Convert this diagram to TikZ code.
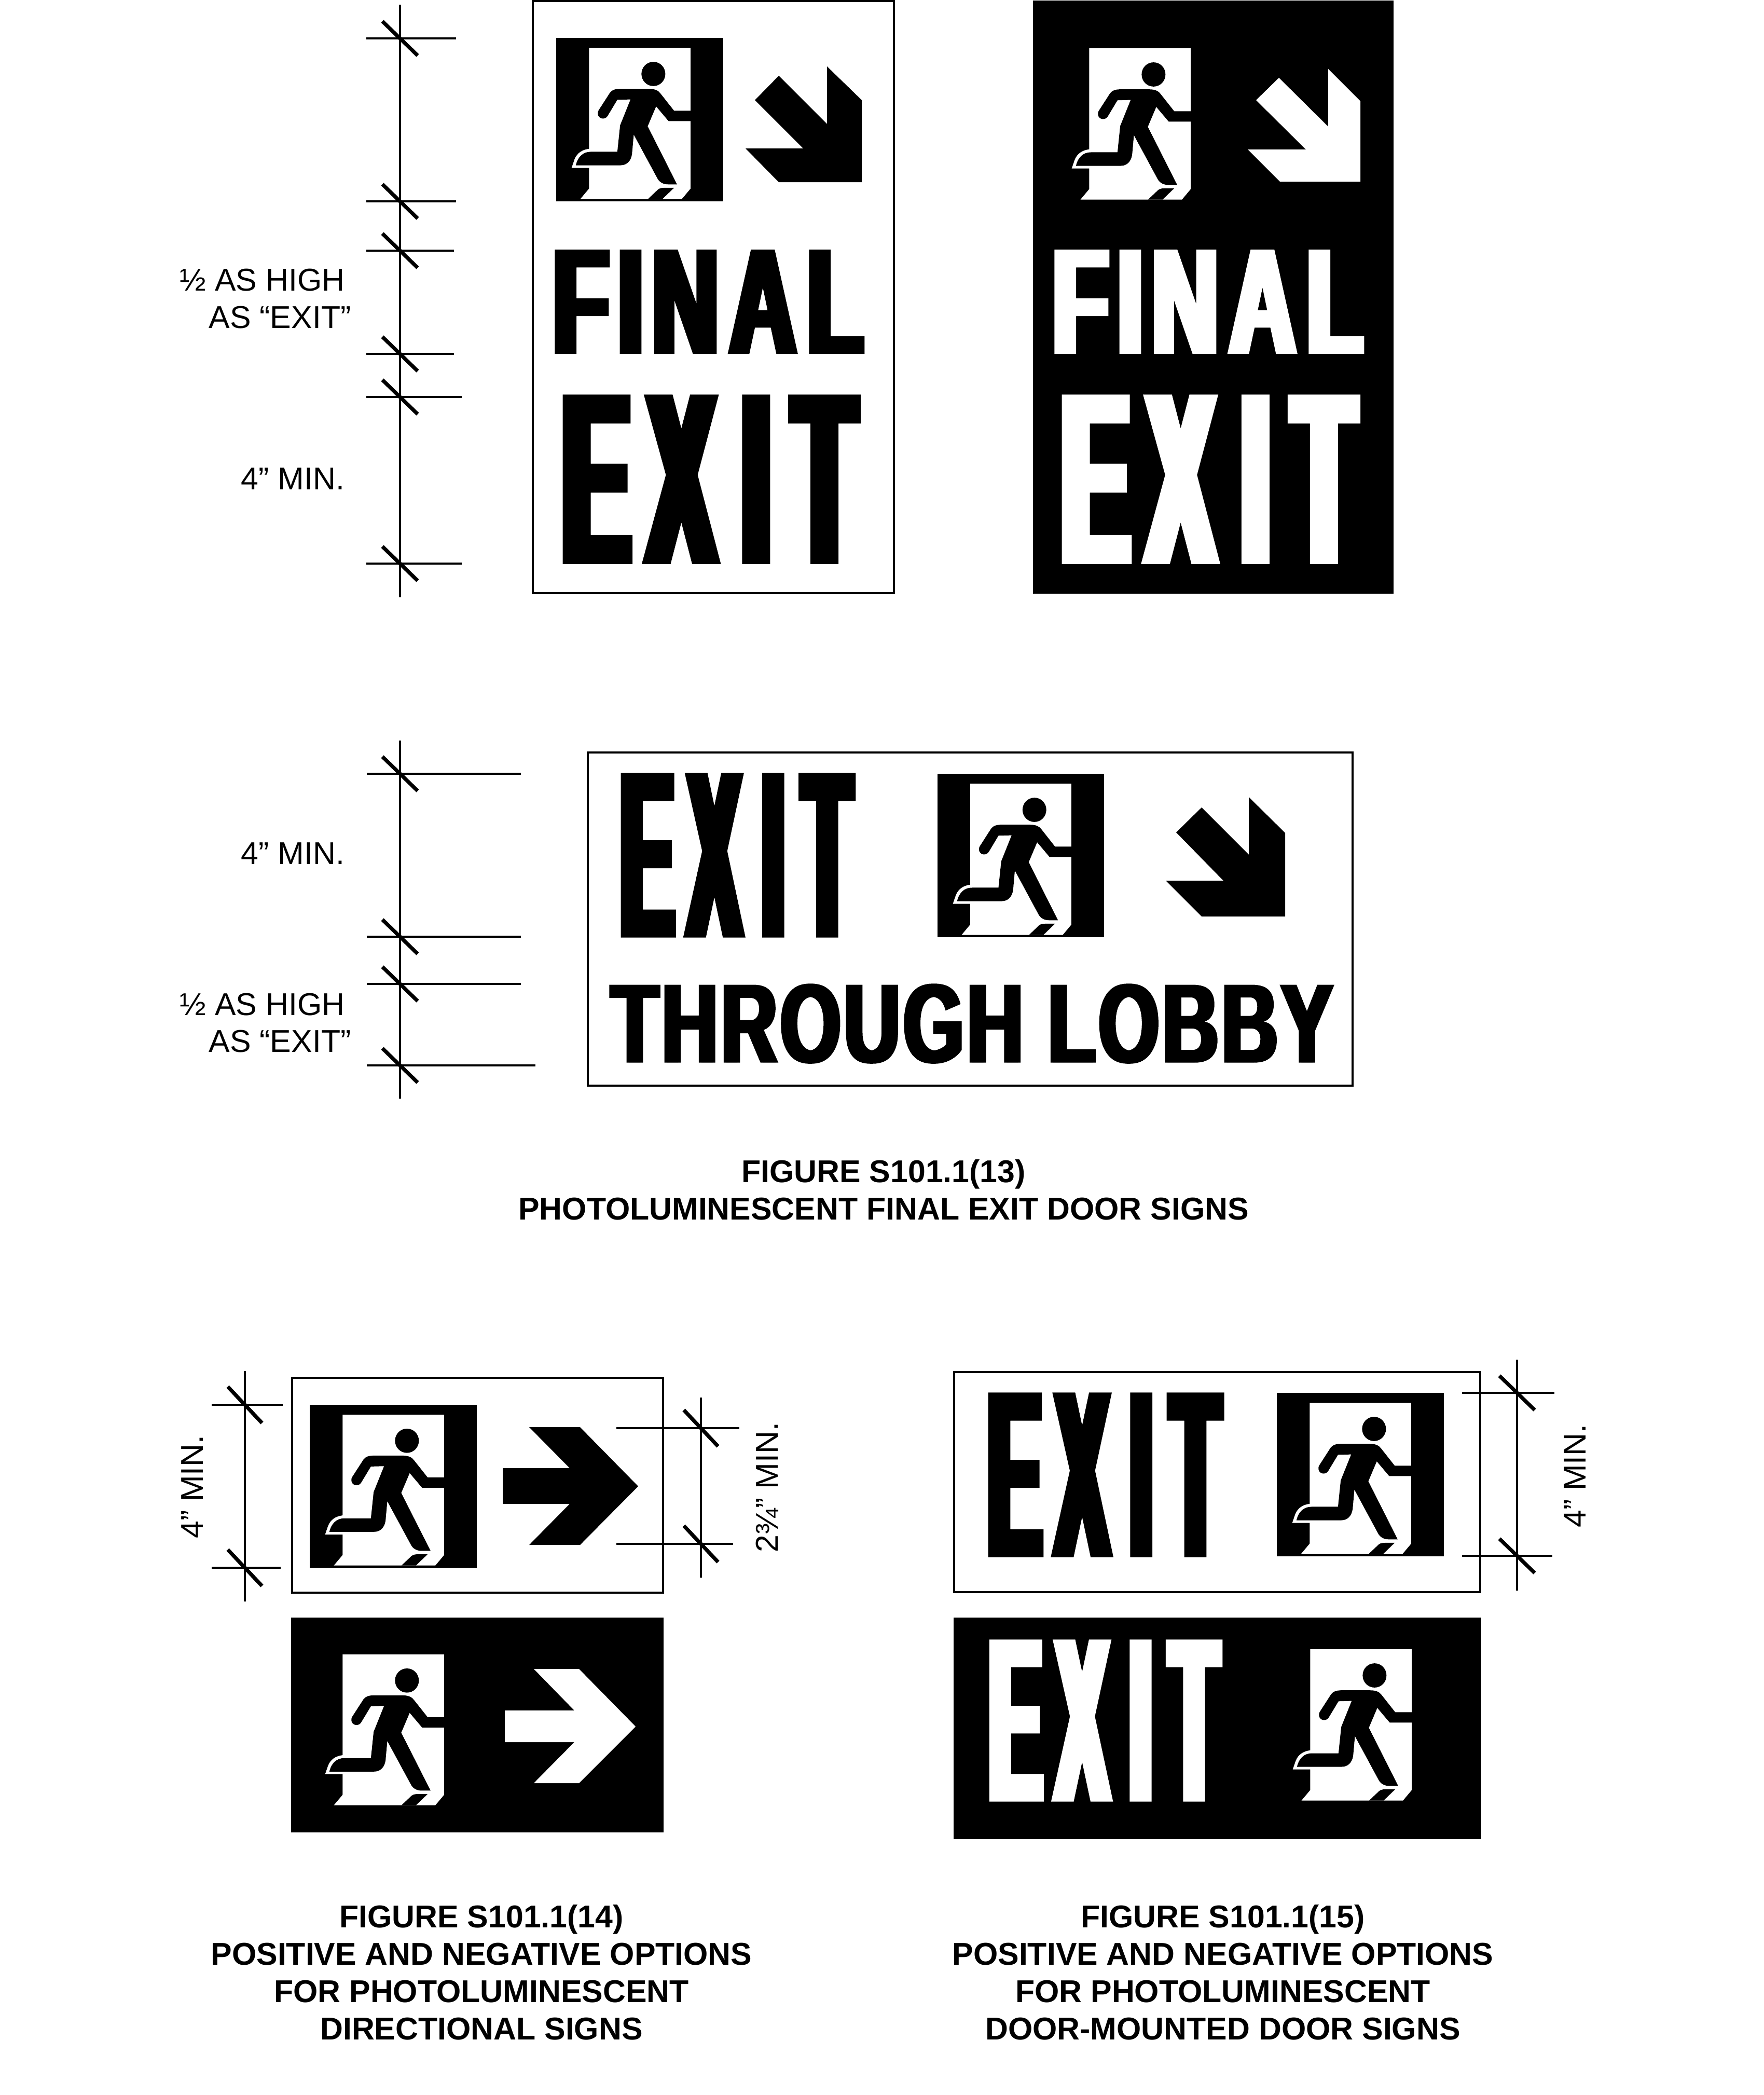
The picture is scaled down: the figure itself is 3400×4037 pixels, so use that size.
\documentclass[tikz,border=0pt]{standalone}
\usepackage{fontspec}
\usepackage{graphicx}
\setmainfont{Liberation Sans}
% narrow letterforms: glyphs are stretched narrow in the font matrix, then widened by the CTM so the outline stroke fattens stems only
\newfontfamily\signE[FakeStretch=0.055,FakeBold=0.74]{Liberation Sans Bold}
\newfontfamily\signF[FakeStretch=0.082,FakeBold=0.75]{Liberation Sans Bold}
\newfontfamily\signT[FakeStretch=0.097,FakeBold=0.65]{Liberation Sans Bold}
\newcommand{\wordExit}{{\fontsize{100}{100}\signE E\kern.010em X\kern.015em I\kern.013em T}}
\newcommand{\wordFinal}{{\fontsize{100}{100}\signF F\kern.008em I\kern.008em N\kern.01em A\kern.01em L}}
\newcommand{\wordLobby}{{\fontsize{100}{100}\signT T\kern.004em H\kern.004em R\kern.004em O\kern.004em U\kern.004em G\kern.004em H\kern.004em{ }L\kern.004em O\kern.004em B\kern.004em B\kern.004em Y}}
\tikzset{
  x=0.25pt,y=-0.25pt,
  dimline/.style={line width=1pt,draw=black},
  dimtick/.style={line width=1.8pt,draw=black},
  signframe/.style={line width=1.1pt,draw=black,fill=white},
  signdark/.style={fill=black},
  lbl/.style={font=\fontsize{15.2}{17.875}\selectfont,inner sep=0pt,text=black},
  captiontext/.style={font=\fontsize{15.2}{18}\selectfont\bfseries,inner sep=0pt,text=black,align=center},
  signtext/.style={inner sep=0pt,anchor=base west},
}
% sign word: name, x0, baseline y, width px, height px, text, colour
\newcommand{\signword}[7]{\pgfmathsetlengthmacro{\wdpt}{(#4)*0.25pt}\pgfmathsetlengthmacro{\htpt}{(#5)*0.25pt}%
  \node[signtext,text=#7] (#1) at (#2,#3) {\resizebox{\wdpt}{\htpt}{#6}};}
% running man: x, y, w, h of the outer panel
\newcommand{\runner}[4]{%
  \begin{scope}[shift={(#1,#2)},xscale={#3/672},yscale={#4/943},shift={(-151,-220)}]
    \fill[black] (151,220) rectangle (823,1163);
    \fill[white] (283,277) -- (691,277) -- (691,1090) -- (656,1150) -- (248,1150) -- (283,1090) -- (283,970) -- (213,970) -- (225,920) .. controls (235,885) and (255,865) .. (283,860) -- cycle;
    \fill[black] (542,428) ellipse [x radius=48,y radius=70];
    \fill[black] (405,514) -- (525,514) .. controls (550,514) and (562,525) .. (570,540) -- (625,640) -- (691,640) -- (691,700) -- (603,700) -- (553,615) -- (519,730) -- (637,1065) -- (600,1065) .. controls (580,1065) and (565,1050) .. (558,1030) -- (463,778) -- (456,890) .. controls (452,930) and (435,955) .. (410,955) -- (230,955) .. controls (238,905) and (260,877) .. (290,877) -- (397,877) -- (408,725) -- (450,575) -- (397,577) -- (358,670) .. controls (350,690) and (328,692) .. (320,668) .. controls (317,655) and (318,645) .. (323,635) -- (367,537) .. controls (375,520) and (390,514) .. (405,514) -- cycle;
    \fill[black] (520,1150) -- (553,1105) .. controls (562,1090) and (570,1085) .. (585,1085) -- (625,1085) -- (578,1150) -- cycle;
  \end{scope}}
% extension line with slash: x0, x1, y, cx of the dimension line
\newcommand{\hdim}[4]{%
  \draw[dimline] (#1,#3) -- (#2,#3);
  \draw[dimtick] (#4-34,#3-33) -- (#4+34,#3+33);}
\newcommand{\vdim}[4]{%
  \draw[dimline] (#1,#3) -- (#2,#3);
  \draw[dimtick] (#4-33,#3-35) -- (#4+33,#3+35);}
\begin{document}
\begin{tikzpicture}
\useasboundingbox (0,0) rectangle (3400,4037);
\fill[white] (0,0) rectangle (3400,4037);

% --- Figure 13 top positive
\draw[signframe] (1027,2) rectangle (1723,1143);
\runner{1072}{73}{322}{315}
\fill[black] (1501,146) -- (1594,239) -- (1594,128) -- (1661,193) -- (1661,351) -- (1501,351) -- (1437,286) -- (1548,286) -- (1455,193) -- cycle;
\signword{finalpos}{1065}{681}{598}{199}{\wordFinal}{black}
\signword{exitpos}{1084}{1085}{563}{323}{\wordExit}{black}

% --- Figure 13 top negative
\fill[signdark] (1991,1) rectangle (2686,1144);
\runner{2036}{74}{322}{315}
\fill[white] (2465,150) -- (2560,244) -- (2560,133) -- (2622,195) -- (2622,350) -- (2467,350) -- (2405,288) -- (2517,288) -- (2421,193) -- cycle;
\signword{finalneg}{2028}{681}{598}{199}{\wordFinal}{white}
\signword{exitneg}{2046}{1085}{564}{323}{\wordExit}{white}

% --- Dimensions top
\draw[dimline] (771,9) -- (771,1151);
\hdim{706}{879}{74}{771}
\hdim{706}{879}{388}{771}
\hdim{706}{875}{483}{771}
\hdim{706}{875}{682}{771}
\hdim{706}{890}{765}{771}
\hdim{706}{890}{1086}{771}
\node[lbl,anchor=base west] (hlfa) at (346,560) {½ AS HIGH};
\node[lbl,anchor=base west] (hlfb) at (402,632) {AS “EXIT”};
\node[lbl,anchor=base west] (mina) at (464,943) {4” MIN.};

% --- Through lobby sign
\draw[signframe] (1133,1450) rectangle (2607,2092);
\signword{exitbig}{1196}{1805}{444}{314}{\wordExit}{black}
\runner{1807}{1491}{321}{315}
\fill[black] (2316,1556) -- (2407,1647) -- (2407,1536) -- (2477,1605) -- (2477,1766) -- (2316,1766) -- (2247,1697) -- (2358,1697) -- (2267,1604) -- cycle;
\signword{lobby}{1177}{2047}{1391}{151}{\wordLobby}{black}

% --- Dimensions big sign
\draw[dimline] (771,1427) -- (771,2117);
\hdim{707}{1004}{1491}{771}
\hdim{707}{1004}{1805}{771}
\hdim{707}{1004}{1896}{771}
\hdim{707}{1032}{2053}{771}
\node[lbl,anchor=base west] (minb) at (464,1665) {4” MIN.};
\node[lbl,anchor=base west] (hlfc) at (346,1956) {½ AS HIGH};
\node[lbl,anchor=base west] (hlfd) at (402,2027.5) {AS “EXIT”};

\node[captiontext,anchor=north] (capa) at (1703,2234) {FIGURE S101.1(13)\\PHOTOLUMINESCENT FINAL EXIT DOOR SIGNS};

% --- Figure 14 positive
\draw[signframe] (563,2655) rectangle (1278,3069);
\runner{597}{2707}{322}{314}
\fill[black] (1020,2750) -- (1118,2750) -- (1230,2864) -- (1118,2977) -- (1020,2977) -- (1098,2898) -- (969,2898) -- (969,2829) -- (1098,2829) -- cycle;
\draw[dimline] (472,2642) -- (472,3086);
\vdim{408}{545}{2707}{472}
\vdim{408}{541}{3021}{472}
\node[lbl,anchor=base,rotate=90] (minc) at (391,2865) {4” MIN.};
\draw[dimline] (1351,2693) -- (1351,3040);
\vdim{1188}{1425}{2752}{1351}
\vdim{1188}{1413}{2975}{1351}
\node[lbl,anchor=base,rotate=90] (mind) at (1499,2866) {2¾” MIN.};

% --- Figure 14 negative
\fill[signdark] (561,3117) rectangle (1279,3531);
\runner{597}{3169}{322}{314}
\fill[white] (1029,3216) -- (1116,3216) -- (1225,3327) -- (1116,3436) -- (1029,3436) -- (1107,3357) -- (973,3357) -- (973,3296) -- (1107,3296) -- cycle;

% --- Figure 15 positive
\draw[signframe] (1839,2644) rectangle (2853,3068);
\signword{exitc}{1904}{2999}{446}{314}{\wordExit}{black}
\runner{2461}{2684}{322}{315}
\draw[dimline] (2924,2620) -- (2924,3065);
\hdim{2818}{2996}{2684}{2924}
\hdim{2818}{2992}{2998}{2924}
\node[lbl,anchor=base,rotate=90] (mine) at (3056,2844) {4” MIN.};

% --- Figure 15 negative
\fill[signdark] (1838,3117) rectangle (2855,3544);
\signword{exitd}{1906}{3470}{441}{309}{\wordExit}{white}
\runner{2462}{3159}{322}{315}

\node[captiontext,anchor=north] (capb) at (928,3670) {FIGURE S101.1(14)\\POSITIVE AND NEGATIVE OPTIONS\\FOR PHOTOLUMINESCENT\\DIRECTIONAL SIGNS};
\node[captiontext,anchor=north] (capc) at (2357,3670) {FIGURE S101.1(15)\\POSITIVE AND NEGATIVE OPTIONS\\FOR PHOTOLUMINESCENT\\DOOR-MOUNTED DOOR SIGNS};
\end{tikzpicture}
\end{document}
